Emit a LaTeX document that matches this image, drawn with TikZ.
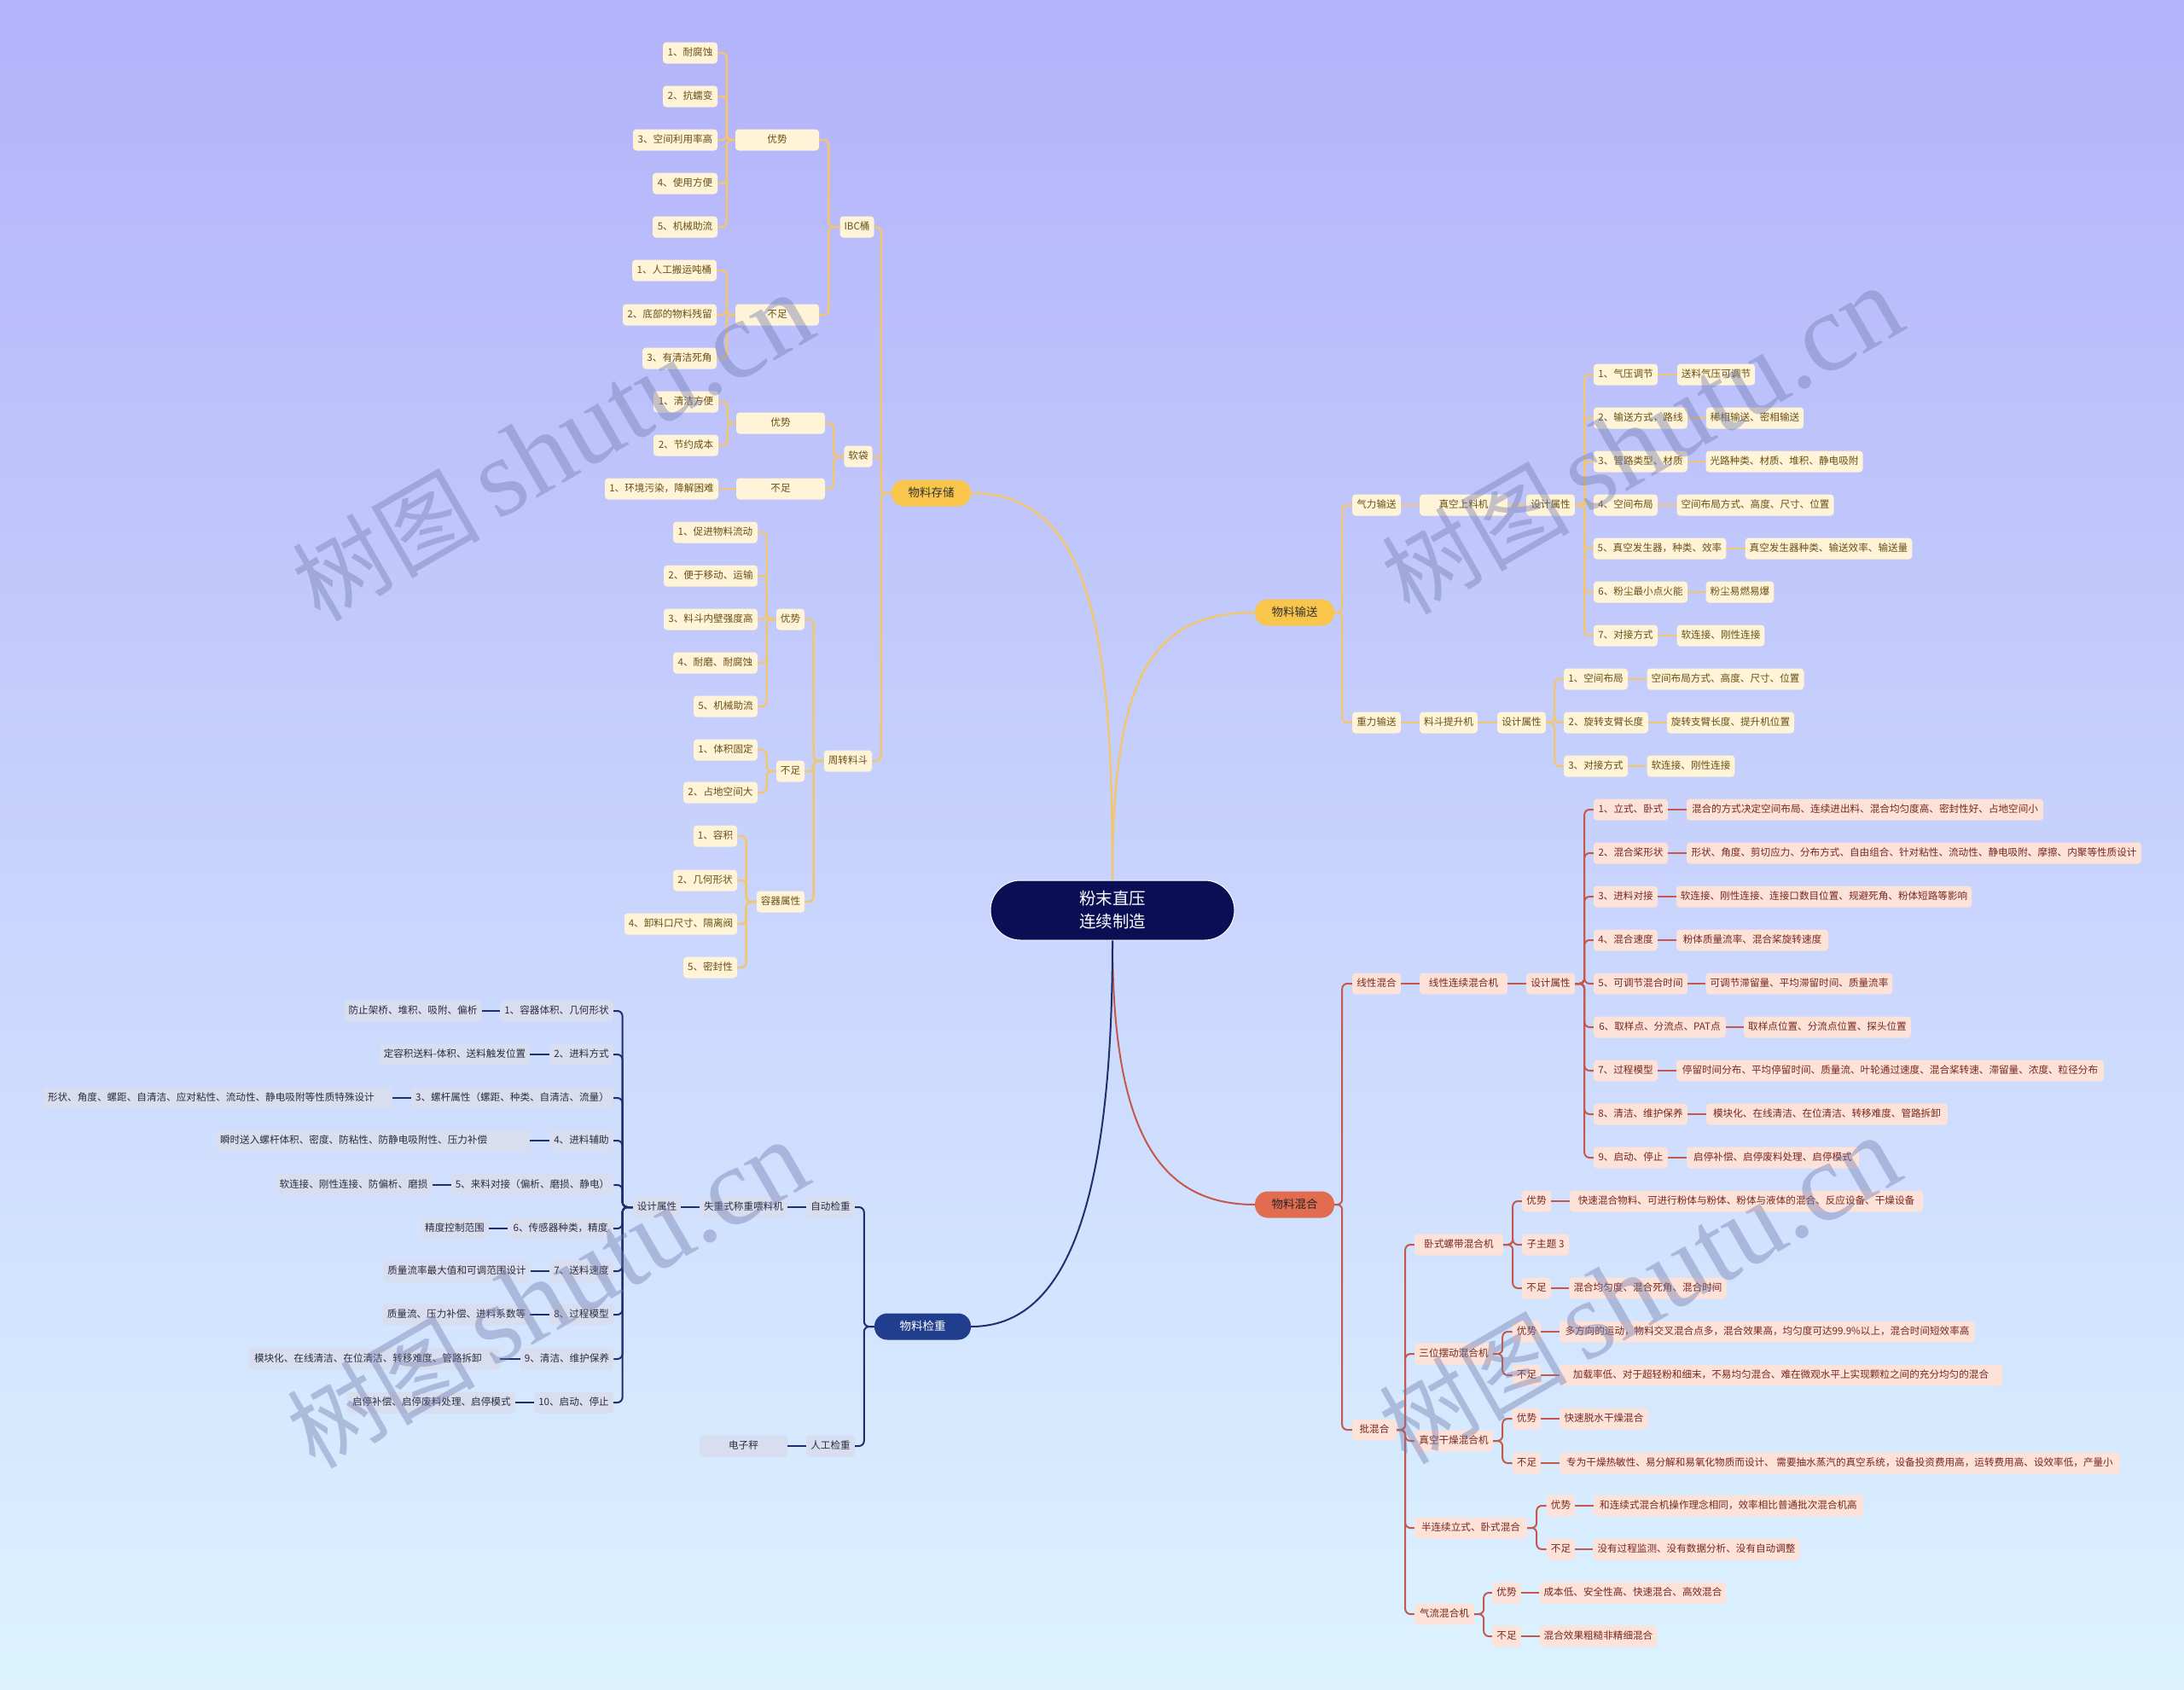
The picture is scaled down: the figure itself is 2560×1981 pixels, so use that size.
\documentclass[tikz,border=0pt]{standalone}
\usepackage{fontspec}
\setmainfont{Noto Sans CJK SC}
\newfontfamily\wmser{Liberation Serif}
\usetikzlibrary{calc}
\definecolor{bgtop}{RGB}{179,178,250}
\definecolor{bgmid}{RGB}{199,210,252}
\definecolor{bgbot}{RGB}{220,243,255}
\definecolor{yfill}{RGB}{255,243,216}
\definecolor{ytext}{RGB}{105,80,20}
\definecolor{yline}{RGB}{242,198,108}
\definecolor{ymain}{RGB}{249,197,74}
\definecolor{rfill}{RGB}{252,226,217}
\definecolor{rtext}{RGB}{120,40,30}
\definecolor{rline}{RGB}{196,88,74}
\definecolor{rmain}{RGB}{226,108,80}
\definecolor{bfill}{RGB}{216,221,240}
\definecolor{btext}{RGB}{45,45,60}
\definecolor{bline}{RGB}{30,47,110}
\definecolor{bmain}{RGB}{33,62,142}
\definecolor{rootc}{RGB}{10,14,85}
\definecolor{wmc}{RGB}{115,125,175}
\newcommand{\mmnode}[6]{\node[#1, minimum width={(#4-#3)*1pt}] (#2) at ({(#3+#4)/2},#5) {#6};}
\begin{document}
\begin{tikzpicture}[x=1pt,y=-1pt,
  nb/.style={rounded corners=4pt, inner xsep=5pt, inner ysep=0pt, minimum height=25pt,
    font=\fontsize{11.6}{14}\selectfont, text height=8.8pt, text depth=1.4pt},
  yn/.style={nb, fill=yfill, text=ytext},
  rn/.style={nb, fill=rfill, text=rtext},
  bn/.style={nb, fill=bfill, text=btext},
  bnl/.style={bn, align=left},
  mainnode/.style={rounded corners=15pt, minimum height=31pt, inner ysep=0pt,
    font=\fontsize{13.5}{16}\selectfont, text height=10pt, text depth=2pt},
  yl/.style={draw=yline, line width=2.4pt, rounded corners=6pt},
  rl/.style={draw=rline, line width=2pt, rounded corners=6pt},
  bl/.style={draw=bline, line width=2pt, rounded corners=6pt},
  wm/.style={text=wmc, opacity=0.42, rotate=30, inner sep=0pt}
]
\useasboundingbox (0,0) rectangle (2560,1981);
\shade[top color=bgtop, middle color=bgmid, bottom color=bgbot] (0,0) rectangle (2560,1981);

% ---------- root and main branches ----------
\node[rounded corners=35pt, fill=rootc, draw=white, line width=1pt, minimum width=286pt,
  minimum height=70pt, text=white, align=center, font=\fontsize{19.5}{27}\selectfont] (R) at (1304,1067) {粉末直压\\连续制造};
\mmnode{mainnode, fill=ymain, text=black!80}{S}{1045}{1138}{578}{物料存储}
\mmnode{mainnode, fill=ymain, text=black!80}{T}{1471}{1564}{718}{物料输送}
\mmnode{mainnode, fill=rmain, text=black!85}{M}{1471}{1564}{1412}{物料混合}
\mmnode{mainnode, fill=bmain, text=white}{W}{1025}{1138}{1555}{物料检重}

\draw[draw=yline, line width=2.4pt] (R.north) .. controls (1304,760) and (1285,578) .. (S.east);
\draw[draw=yline, line width=2.4pt] (R.north) .. controls (1304,800) and (1345,718) .. (T.west);
\draw[draw=rline, line width=2pt] (R.south) .. controls (1304,1330) and (1360,1412) .. (M.west);
\draw[draw=bline, line width=2pt] (R.south) .. controls (1304,1450) and (1235,1555) .. (W.east);

% ---------- storage ----------
\mmnode{yn}{s11}{777}{841}{62}{1、耐腐蚀}
\mmnode{yn}{s12}{777}{841}{113}{2、抗蠕变}
\mmnode{yn}{s13}{742}{841}{164}{3、空间利用率高}
\mmnode{yn}{s14}{765}{841}{215}{4、使用方便}
\mmnode{yn}{s15}{765}{841}{266}{5、机械助流}
\mmnode{yn}{s16}{741}{840}{317}{1、人工搬运吨桶}
\mmnode{yn}{s17}{730}{840}{369}{2、底部的物料残留}
\mmnode{yn}{s18}{753}{840}{420}{3、有清洁死角}
\mmnode{yn}{s1a}{862}{960}{164}{优势}
\mmnode{yn}{s1b}{862}{960}{369}{不足}
\mmnode{yn}{s1}{985}{1024}{266}{IBC桶}
\mmnode{yn}{s21}{766}{842}{471}{1、清洁方便}
\mmnode{yn}{s22}{766}{842}{522}{2、节约成本}
\mmnode{yn}{s23}{709}{842}{573}{1、环境污染，降解困难}
\mmnode{yn}{s2a}{863}{967}{496}{优势}
\mmnode{yn}{s2b}{863}{967}{573}{不足}
\mmnode{yn}{s2}{990}{1022}{535}{软袋}
\mmnode{yn}{s31}{789}{888}{624}{1、促进物料流动}
\mmnode{yn}{s32}{778}{888}{675}{2、便于移动、运输}
\mmnode{yn}{s33}{778}{888}{726}{3、料斗内壁强度高}
\mmnode{yn}{s34}{789}{888}{777}{4、耐磨、耐腐蚀}
\mmnode{yn}{s35}{813}{888}{828}{5、机械助流}
\mmnode{yn}{s36}{813}{888}{879}{1、体积固定}
\mmnode{yn}{s37}{801}{888}{929}{2、占地空间大}
\mmnode{yn}{s38}{813}{864}{980}{1、容积}
\mmnode{yn}{s39}{789}{864}{1032}{2、几何形状}
\mmnode{yn}{s3A}{732}{864}{1083}{4、卸料口尺寸、隔离阀}
\mmnode{yn}{s3B}{801}{864}{1134}{5、密封性}
\mmnode{yn}{s3a}{910}{943}{726}{优势}
\mmnode{yn}{s3b}{910}{943}{904}{不足}
\mmnode{yn}{s3c}{887}{943}{1057}{容器属性}
\mmnode{yn}{s3}{966}{1022}{892}{周转料斗}

\foreach \c in {s11,s12,s13,s14,s15} \draw[yl] (s1a.west) -- ++(-10,0) |- (\c.east);
\foreach \c in {s16,s17,s18} \draw[yl] (s1b.west) -- ++(-10,0) |- (\c.east);
\foreach \c in {s1a,s1b} \draw[yl] (s1.west) -- ++(-13,0) |- (\c.east);
\foreach \c in {s21,s22} \draw[yl] (s2a.west) -- ++(-10,0) |- (\c.east);
\draw[yl] (s2b.west) -- (s23.east);
\foreach \c in {s2a,s2b} \draw[yl] (s2.west) -- ++(-12,0) |- (\c.east);
\foreach \c in {s31,s32,s33,s34,s35} \draw[yl] (s3a.west) -- ++(-11,0) |- (\c.east);
\foreach \c in {s36,s37} \draw[yl] (s3b.west) -- ++(-11,0) |- (\c.east);
\foreach \c in {s38,s39,s3A,s3B} \draw[yl] (s3c.west) -- ++(-12,0) |- (\c.east);
\foreach \c in {s3a,s3b,s3c} \draw[yl] (s3.west) -- ++(-12,0) |- (\c.east);
\foreach \c in {s1,s2,s3} \draw[yl] (S.west) -- ++(-12,0) |- (\c.east);

% ---------- transport ----------
\mmnode{yn}{t1}{1585}{1642}{592}{气力输送}
\mmnode{yn}{t1a}{1664}{1767}{592}{真空上料机}
\mmnode{yn}{t1b}{1789}{1846}{592}{设计属性}
\mmnode{yn}{t11}{1868}{1943}{439}{1、气压调节}
\mmnode{yn}{t12}{1868}{1978}{490}{2、输送方式，路线}
\mmnode{yn}{t13}{1868}{1978}{541}{3、管路类型、材质}
\mmnode{yn}{t14}{1868}{1943}{592}{4、空间布局}
\mmnode{yn}{t15}{1868}{2023}{643}{5、真空发生器，种类、效率}
\mmnode{yn}{t16}{1868}{1978}{694}{6、粉尘最小点火能}
\mmnode{yn}{t17}{1868}{1943}{745}{7、对接方式}
\mmnode{yn}{v11}{1966}{2057}{439}{送料气压可调节}
\mmnode{yn}{v12}{2000}{2114}{490}{稀相输送、密相输送}
\mmnode{yn}{v13}{2000}{2183}{541}{光路种类、材质、堆积、静电吸附}
\mmnode{yn}{v14}{1966}{2149}{592}{空间布局方式、高度、尺寸、位置}
\mmnode{yn}{v15}{2046}{2241}{643}{真空发生器种类、输送效率、输送量}
\mmnode{yn}{v16}{2000}{2079}{694}{粉尘易燃易爆}
\mmnode{yn}{v17}{1966}{2068}{745}{软连接、刚性连接}
\mmnode{yn}{t2}{1585}{1642}{847}{重力输送}
\mmnode{yn}{t2a}{1664}{1732}{847}{料斗提升机}
\mmnode{yn}{t2b}{1755}{1812}{847}{设计属性}
\mmnode{yn}{t21}{1833}{1908}{796}{1、空间布局}
\mmnode{yn}{t22}{1833}{1932}{847}{2、旋转支臂长度}
\mmnode{yn}{t23}{1833}{1908}{898}{3、对接方式}
\mmnode{yn}{v21}{1931}{2114}{796}{空间布局方式、高度、尺寸、位置}
\mmnode{yn}{v22}{1954}{2103}{847}{旋转支臂长度、提升机位置}
\mmnode{yn}{v23}{1931}{2033}{898}{软连接、刚性连接}

\foreach \c in {t1,t2} \draw[yl] (T.east) -- ++(9,0) |- (\c.west);
\draw[yl] (t1.east) -- (t1a.west);
\draw[yl] (t1a.east) -- (t1b.west);
\foreach \c in {t11,t12,t13,t14,t15,t16,t17} \draw[yl] (t1b.east) -- ++(11,0) |- (\c.west);
\foreach \a/\b in {t11/v11,t12/v12,t13/v13,t14/v14,t15/v15,t16/v16,t17/v17,t21/v21,t22/v22,t23/v23} \draw[yl] (\a.east) -- (\b.west);
\draw[yl] (t2.east) -- (t2a.west);
\draw[yl] (t2a.east) -- (t2b.west);
\foreach \c in {t21,t22,t23} \draw[yl] (t2b.east) -- ++(10,0) |- (\c.west);

% ---------- mixing ----------
\mmnode{rn}{m1}{1585}{1642}{1153}{线性混合}
\mmnode{rn}{m1a}{1664}{1767}{1153}{线性连续混合机}
\mmnode{rn}{m1b}{1789}{1846}{1153}{设计属性}
\mmnode{rn}{m11}{1868}{1955}{949}{1、立式、卧式}
\mmnode{rn}{m12}{1868}{1955}{1000}{2、混合桨形状}
\mmnode{rn}{m13}{1868}{1943}{1051}{3、进料对接}
\mmnode{rn}{m14}{1868}{1943}{1102}{4、混合速度}
\mmnode{rn}{m15}{1868}{1978}{1153}{5、可调节混合时间}
\mmnode{rn}{m16}{1868}{2023}{1204}{6、取样点、分流点、PAT点}
\mmnode{rn}{m17}{1868}{1943}{1255}{7、过程模型}
\mmnode{rn}{m18}{1868}{1978}{1306}{8、清洁、维护保养}
\mmnode{rn}{m19}{1868}{1955}{1357}{9、启动、停止}
\mmnode{rn}{w11}{1977}{2395}{949}{混合的方式决定空间布局、连续进出料、混合均匀度高、密封性好、占地空间小}
\mmnode{rn}{w12}{1977}{2510}{1000}{形状、角度、剪切应力、分布方式、自由组合、针对粘性、流动性、静电吸附、摩擦、内聚等性质设计}
\mmnode{rn}{w13}{1965}{2311}{1051}{软连接、刚性连接、连接口数目位置、规避死角、粉体短路等影响}
\mmnode{rn}{w14}{1965}{2143}{1102}{粉体质量流率、混合桨旋转速度}
\mmnode{rn}{w15}{2000}{2218}{1153}{可调节滞留量、平均滞留时间、质量流率}
\mmnode{rn}{w16}{2044}{2240}{1204}{取样点位置、分流点位置、探头位置}
\mmnode{rn}{w17}{1965}{2466}{1255}{停留时间分布、平均停留时间、质量流、叶轮通过速度、混合桨转速、滞留量、浓度、粒径分布}
\mmnode{rn}{w18}{2000}{2283}{1306}{模块化、在线清洁、在位清洁、转移难度、管路拆卸}
\mmnode{rn}{w19}{1977}{2179}{1357}{启停补偿、启停废料处理、启停模式}

\mmnode{rn}{m2}{1585}{1637}{1676}{批混合}
\mmnode{rn}{m21}{1658}{1762}{1459}{卧式螺带混合机}
\mmnode{rn}{m21a}{1784}{1818}{1408}{优势}
\mmnode{rn}{m21b}{1784}{1839}{1459}{子主题 3}
\mmnode{rn}{m21c}{1784}{1818}{1510}{不足}
\mmnode{rn}{x21a}{1840}{2254}{1408}{快速混合物料、可进行粉体与粉体、粉体与液体的混合、反应设备、干燥设备}
\mmnode{rn}{x21c}{1840}{2023}{1510}{混合均匀度、混合死角、混合时间}
\mmnode{rn}{m22}{1658}{1750}{1587}{三位摆动混合机}
\mmnode{rn}{m22a}{1773}{1806}{1561}{优势}
\mmnode{rn}{m22b}{1773}{1806}{1612}{不足}
\mmnode{rn}{x22a}{1828}{2315}{1561}{多方向的运动，物料交叉混合点多，混合效果高，均匀度可达99.9\%以上，混合时间短效率高}
\mmnode{rn}{x22b}{1828}{2347}{1612}{加载率低、对于超轻粉和细末，不易均匀混合、难在微观水平上实现颗粒之间的充分均匀的混合}
\mmnode{rn}{m23}{1658}{1750}{1689}{真空干燥混合机}
\mmnode{rn}{m23a}{1773}{1806}{1663}{优势}
\mmnode{rn}{m23b}{1773}{1806}{1715}{不足}
\mmnode{rn}{x23a}{1828}{1932}{1663}{快速脱水干燥混合}
\mmnode{rn}{x23b}{1828}{2485}{1715}{专为干燥热敏性、易分解和易氧化物质而设计、 需要抽水蒸汽的真空系统，设备投资费用高，运转费用高、设效率低，产量小}
\mmnode{rn}{m24}{1658}{1790}{1791}{半连续立式、卧式混合}
\mmnode{rn}{m24a}{1813}{1846}{1765}{优势}
\mmnode{rn}{m24b}{1813}{1846}{1816}{不足}
\mmnode{rn}{x24a}{1868}{2184}{1765}{和连续式混合机操作理念相同，效率相比普通批次混合机高}
\mmnode{rn}{x24b}{1868}{2109}{1816}{没有过程监测、没有数据分析、没有自动调整}
\mmnode{rn}{m25}{1658}{1728}{1892}{气流混合机}
\mmnode{rn}{m25a}{1749}{1783}{1867}{优势}
\mmnode{rn}{m25b}{1749}{1783}{1918}{不足}
\mmnode{rn}{x25a}{1805}{2023}{1867}{成本低、安全性高、快速混合、高效混合}
\mmnode{rn}{x25b}{1805}{1942}{1918}{混合效果粗糙非精细混合}

\foreach \c in {m1,m2} \draw[rl] (M.east) -- ++(9,0) |- (\c.west);
\draw[rl] (m1.east) -- (m1a.west);
\draw[rl] (m1a.east) -- (m1b.west);
\foreach \c in {m11,m12,m13,m14,m15,m16,m17,m18,m19} \draw[rl] (m1b.east) -- ++(11,0) |- (\c.west);
\foreach \a/\b in {m11/w11,m12/w12,m13/w13,m14/w14,m15/w15,m16/w16,m17/w17,m18/w18,m19/w19} \draw[rl] (\a.east) -- (\b.west);
\foreach \c in {m21,m22,m23,m24,m25} \draw[rl] (m2.east) -- ++(10,0) |- (\c.west);
\foreach \c in {m21a,m21b,m21c} \draw[rl] (m21.east) -- ++(11,0) |- (\c.west);
\foreach \c in {m22a,m22b} \draw[rl] (m22.east) -- ++(11,0) |- (\c.west);
\foreach \c in {m23a,m23b} \draw[rl] (m23.east) -- ++(11,0) |- (\c.west);
\foreach \c in {m24a,m24b} \draw[rl] (m24.east) -- ++(11,0) |- (\c.west);
\foreach \c in {m25a,m25b} \draw[rl] (m25.east) -- ++(11,0) |- (\c.west);
\foreach \a/\b in {m21a/x21a,m21c/x21c,m22a/x22a,m22b/x22b,m23a/x23a,m23b/x23b,m24a/x24a,m24b/x24b,m25a/x25a,m25b/x25b} \draw[rl] (\a.east) -- (\b.west);

% ---------- weighing ----------
\mmnode{bn}{k1}{945}{1002}{1415}{自动检重}
\mmnode{bn}{k2}{945}{1002}{1695}{人工检重}
\mmnode{bn}{k1a}{820}{923}{1415}{失重式称重喂料机}
\mmnode{bn}{k2a}{820}{923}{1695}{电子秤}
\mmnode{bn}{k1b}{742}{798}{1415}{设计属性}
\mmnode{bn}{k01}{586}{719}{1185}{1、容器体积、几何形状}
\mmnode{bn}{k02}{644}{719}{1236}{2、进料方式}
\mmnode{bn}{k03}{482}{719}{1287}{3、螺杆属性（螺距、种类、自清洁、流量）}
\mmnode{bn}{k04}{644}{719}{1337}{4、进料辅助}
\mmnode{bn}{k05}{529}{719}{1389}{5、来料对接（偏析、磨损、静电）}
\mmnode{bn}{k06}{595}{719}{1440}{6、传感器种类，精度}
\mmnode{bn}{k07}{644}{719}{1490}{7、送料速度}
\mmnode{bn}{k08}{644}{719}{1541}{8、过程模型}
\mmnode{bn}{k09}{610}{719}{1593}{9、清洁、维护保养}
\mmnode{bn}{k10}{626}{719}{1644}{10、启动、停止}
\mmnode{bn}{y01}{404}{564}{1185}{防止架桥、堆积、吸附、偏析}
\mmnode{bn}{y02}{445}{621}{1236}{定容积送料-体积、送料触发位置}
\mmnode{bnl, text width=398pt}{y03}{50}{460}{1287}{形状、角度、螺距、自清洁、应对粘性、流动性、静电吸附等性质特殊设计}
\mmnode{bnl, text width=357pt}{y04}{252}{621}{1337}{瞬时送入螺杆体积、密度、防粘性、防静电吸附性、压力补偿}
\mmnode{bn}{y05}{323}{506}{1389}{软连接、刚性连接、防偏析、磨损}
\mmnode{bn}{y06}{493}{573}{1440}{精度控制范围}
\mmnode{bn}{y07}{450}{621}{1490}{质量流率最大值和可调范围设计}
\mmnode{bn}{y08}{449}{621}{1541}{质量流、压力补偿、进料系数等}
\mmnode{bnl, text width=282pt}{y09}{292}{586}{1593}{模块化、在线清洁、在位清洁、转移难度、管路拆卸}
\mmnode{bnl, text width=185pt}{y10}{407}{604}{1644}{启停补偿、启停废料处理、启停模式}

\foreach \c in {k1,k2} \draw[bl] (W.west) -- ++(-12,0) |- (\c.east);
\draw[bl] (k1.west) -- (k1a.east);
\draw[bl] (k1a.west) -- (k1b.east);
\draw[bl] (k2.west) -- (k2a.east);
\foreach \c in {k01,k02,k03,k04,k05,k06,k07,k08,k09,k10} \draw[bl] (k1b.west) -- ++(-12,0) |- (\c.east);
\foreach \a/\b in {k01/y01,k02/y02,k03/y03,k04/y04,k05/y05,k06/y06,k07/y07,k08/y08,k09/y09,k10/y10} \draw[bl] (\a.west) -- (\b.east);

% ---------- watermarks ----------
\foreach \n/\px/\py in {wa/648/525, wb/1925/517, wc/642/1518, wd/1922/1513}
  \node[wm] (\n) at (\px,\py) {\fontsize{110}{110}\selectfont 树图\hspace{20pt}{\wmser\fontsize{130}{130}\selectfont shutu.cn}};
\end{tikzpicture}
\end{document}
